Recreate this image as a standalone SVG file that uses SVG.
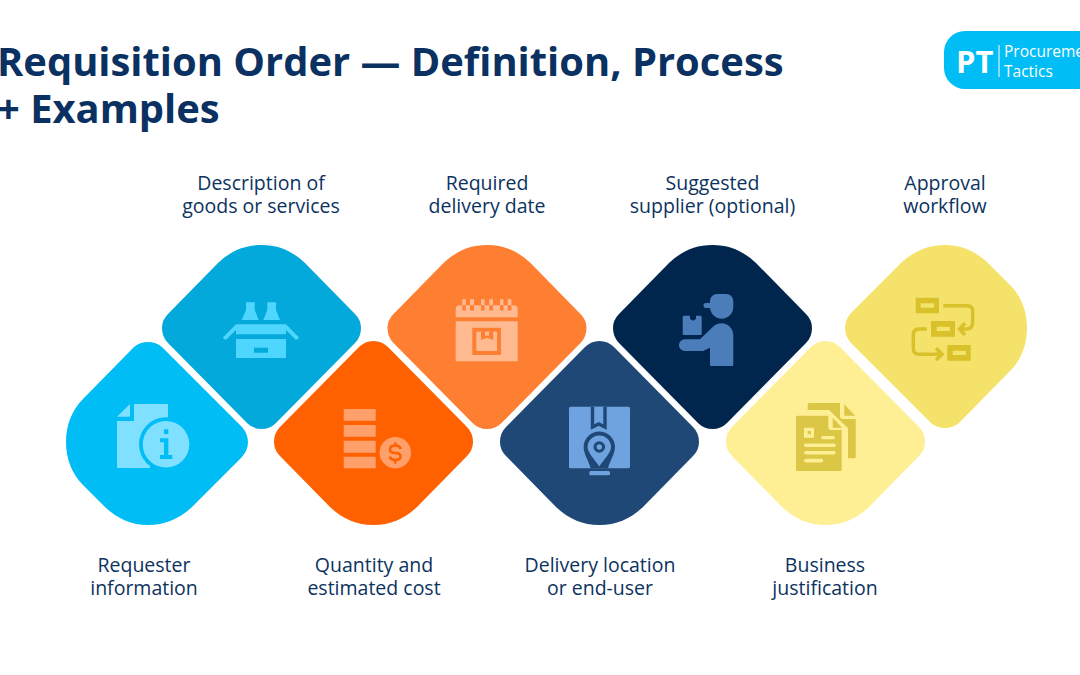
<svg xmlns="http://www.w3.org/2000/svg" width="1080" height="675" viewBox="0 0 1080 675">
<style>
.t{font-family:"Open Sans","Noto Sans",sans-serif;font-weight:700;font-size:39.900px;fill:#0a3161}
.l{font-family:"Open Sans","Noto Sans",sans-serif;font-weight:500;font-size:19.500px;fill:#0c335e;text-anchor:middle}
.i1{fill:#7fe0ff}.i2{fill:#4fd6ff}.i3{fill:#ffa06b}.i4{fill:#ffba91}.i5{fill:#6fa3e0}.i6{fill:#4a7dba}.i7{fill:#dbc645}.i8{fill:#d8c12a}
</style>
<defs>
<path id="sA" d="M218 263C231 251 244 245 261.500 245C279 245 292 251 305 263L355 314Q361 320 361 328Q361 337 355 343L276 423Q270 429 261.500 429Q253 429 247 423L168 343Q162 337 162 328Q162 320 168 314Z"/>
<path id="sB" d="M134 347Q140 342 148 342Q156 342 162 347L242 427Q248 434 248 442Q248 450 242 457L192 507C179 519 165 525 148 525C131 525 118 519 105 507L83 485C72 474 66 459 66 442C66 425 72 410 83 399Z"/>
</defs>
<rect width="1080" height="675" fill="#fff"/>
<text class="t" x="-3" y="76">Requisition Order — Definition, Process</text>
<text class="t" x="-3" y="123">+ Examples</text>
<g id="logo">
<rect x="944" y="31" width="170" height="58" rx="21" fill="#00bdf5"/>
<text x="956" y="73" font-family="Open Sans,sans-serif" font-weight="700" font-size="31" fill="#fff">PT</text>
<rect x="998.500" y="45" width="1" height="32" fill="#fff"/>
<text x="1004" y="57" font-family="Open Sans,sans-serif" font-size="15.500" fill="#fff">Procurement</text>
<text x="1004" y="77" font-family="Open Sans,sans-serif" font-size="15.500" fill="#fff">Tactics</text>
</g>
<g id="connectors"/>
<g id="node1">
<use href="#sB" fill="#00bdf5"/>
<path class="i1" d="M117 416.700 130 404V416.700ZM117 421H134V404H168V440H150V468H117Z"/>
<circle cx="166" cy="444.300" r="27" fill="#00bdf5"/>
<circle class="i1" cx="166" cy="444.300" r="23.300"/>
<path fill="#00bdf5" d="M164 429.300h4.300V434H164ZM160 438.300h8.300V455h4v4H160v-4h4v-12.700h-4Z"/>
<text class="l" x="144" y="572">Requester</text><text class="l" x="144" y="595">information</text>
</g>
<g id="node2">
<use href="#sA" fill="#03a9da"/>
<path class="i2" d="M246 302.300h8.700V310L258.700 320H241.700L246 310ZM267.300 302.300H276V310L280 320H263.300L267.300 310ZM236 324.300H286L299.300 337.700 296 340 286 330V334.300H236V330L225.700 340 222.700 337.700ZM236 339H286V358H236Z"/>
<rect x="254" y="347.700" width="14" height="5" fill="#03a9da"/>
<text class="l" x="261" y="190">Description of</text><text class="l" x="261" y="213">goods or services</text>
</g>
<g id="node3">
<use href="#sA" transform="matrix(1 0 0 -1 112 770)" fill="#ff6000"/>
<path class="i3" d="M343.700 409h32v11.700h-32ZM343.700 425h32v11.700h-32ZM343.700 440.700h32v12h-32ZM343.700 456.700h32v11.600h-32Z"/>
<circle class="i3" cx="395.300" cy="452.700" r="15.700"/>
<path fill="none" stroke="#ff6000" stroke-width="2.600" d="M400.500 449Q400 445.500 395.300 445.500Q390 445.500 390 449.500Q390 453 395.300 453Q400.500 453 400.500 456.500Q400.500 460 395.300 460Q390.500 460 390 456.500M395.300 442.500V446M395.300 460V463.500"/>
<text class="l" x="374" y="572">Quantity and</text><text class="l" x="374" y="595">estimated cost</text>
</g>
<g id="node4">
<use href="#sA" x="225.500" fill="#ff7f32"/>
<path class="i4" d="M455.700 317.300V309.300q0-4 4-4H513.700q4 0 4 4V317.300ZM455.700 321.300H517.700V361.300H455.700ZM462.300 299.300h3.500v6h-3.500ZM470 299.300h4v6h-4ZM481 299.300h3.500v6H481ZM489.300 299.300h3.700v6h-3.700ZM500 299.300h3.500v6H500ZM507.700 299.300h3.700v6h-3.700Z"/>
<path fill="#ff7f32" d="M462.300 305.300h3.500v5.300h-3.500ZM470 305.300h4v5.300h-4ZM481 305.300h3.500v5.300H481ZM489.300 305.300h3.700v5.300h-3.700ZM500 305.300h3.500v5.300H500ZM507.700 305.300h3.700v5.300h-3.700Z"/>
<path fill="#ff7f32" fill-rule="evenodd" d="M472.300 327.700H501V355H472.300ZM476.300 331.700V351H497V331.700Z"/>
<path fill="#ff7f32" d="M481 331.700h12.300V340L487 337.700 481 340Z"/>
<rect class="i4" x="485" y="331.700" width="4" height="4"/>
<text class="l" x="487" y="190">Required</text><text class="l" x="487" y="213">delivery date</text>
</g>
<g id="node5">
<use href="#sA" transform="matrix(1 0 0 -1 338 770)" fill="#1f4876"/>
<rect class="i5" x="569" y="406.700" width="61" height="61.600" rx="1.500"/>
<path class="i5" stroke="#1f4876" stroke-width="3.400" d="M592.500 406.700V427L598.700 424 605 427V406.700"/>
<path fill="#1f4876" d="M599.300 431.500A15.700 15.700 0 0 1 615 447C615 454 610 460 608 468.300H590.500C588.500 460 583.600 454 583.600 447A15.700 15.700 0 0 1 599.300 431.500Z"/>
<path class="i5" d="M599.300 435.500A11.700 11.700 0 0 1 611 447C611 453 604 459 599.300 466.500C594.500 459 587.600 453 587.600 447A11.700 11.700 0 0 1 599.300 435.500Z"/>
<circle cx="599.300" cy="447" r="5.800" fill="#1f4876"/><circle class="i5" cx="599.300" cy="447" r="2.700"/>
<rect class="i5" x="589.300" y="471" width="20.700" height="4.300" rx="1.500"/>
<text class="l" x="600" y="572">Delivery location</text><text class="l" x="600" y="595">or end-user</text>
</g>
<g id="node6">
<use href="#sA" x="451" fill="#01264e"/>
<path class="i6" d="M710 301a7 7 0 0 1 7-7h9.300a7 7 0 0 1 7 7v6a11.600 11.600 0 0 1-23.300 0ZM706 303h6v5h-6a2.500 2.500 0 0 1 0-5ZM684.800 339.300H700L713 326.700C716 324 718.500 323.300 721.700 323.300C728 323.300 733.300 328.500 733.300 335V364.800q0 1.200-1.200 1.200H711.200q-1.200 0-1.200-1.200V347.700L703 351H684.800a5.800 5.800 0 0 1 0-11.700ZM683.900 315.700H690V319L693 320.700 696 319V315.700H700.500q1.200 0 1.200 1.200V333.800q0 1.200-1.200 1.200H683.900q-1.200 0-1.200-1.200V316.900q0-1.200 1.200-1.200Z"/>
<text class="l" x="712.500" y="190">Suggested</text><text class="l" x="712.500" y="213">supplier (optional)</text>
</g>
<g id="node7">
<use href="#sA" transform="matrix(1 0 0 -1 564 770)" fill="#ffef94"/>
<path class="i7" d="M807.700 404.500q0-1.500 1.500-1.500H840V416q0 3 3 3H855.700V457q0 1.300-1.300 1.300H848V428L829 410H807.700ZM844.300 404.300 855 415.700H844.300ZM797.500 415.700H828.300V427q0 3 3 3H841.700V469.500q0 1.500-1.500 1.500H797.500q-1.500 0-1.500-1.500V417.200q0-1.500 1.500-1.500ZM832.700 417.700 842 427.700H832.700Z"/>
<path fill="#ffef94" fill-rule="evenodd" d="M804 427.700h10v10h-10ZM807.700 431v3.300h3.300V431Z"/>
<g fill="#ffef94"><rect x="821" y="436" width="14" height="3.200" rx="1.600"/><rect x="804" y="443.400" width="31.700" height="3.600" rx="1.800"/><rect x="804" y="451" width="31.700" height="3.600" rx="1.800"/><rect x="804" y="458.800" width="19.300" height="3.600" rx="1.800"/></g>
<text class="l" x="825" y="572">Business</text><text class="l" x="825" y="595">justification</text>
</g>
<g id="node8">
<use href="#sB" transform="matrix(-1 0 0 -1 1093 770)" fill="#f5e26b"/>
<g class="i8"><path fill-rule="evenodd" d="M915.700 297.700H939V313.300H915.700ZM920.700 303.300V307.700H934V303.300ZM931 321H955V336.700H931ZM936.700 326.700V331H950V326.700ZM947.300 345H970.700V360.700H947.300ZM952.700 350.700V355H966V350.700Z"/></g>
<path fill="none" stroke="#d8c12a" stroke-width="3.500" d="M943.300 305.700H967Q972.700 305.700 972.700 311V322Q972.700 329 966.700 329H961M965 323.300 959.500 329 965 335M926.700 329H919Q913.300 329 913.300 335V348Q913.300 354.300 919 354.300H941M936 348.300 942 354.300 936 360"/>
<text class="l" x="945" y="190">Approval</text><text class="l" x="945" y="213">workflow</text>
</g>
</svg>
